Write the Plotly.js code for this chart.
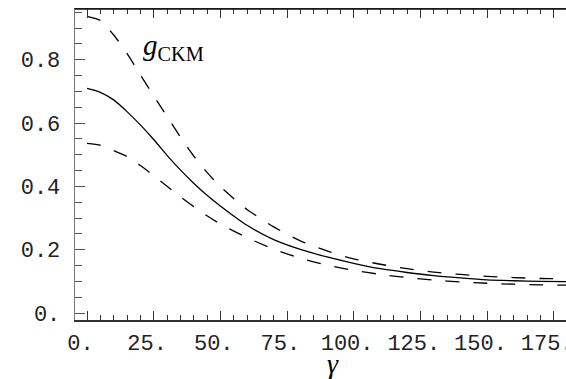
<!DOCTYPE html>
<html>
<head>
<meta charset="utf-8">
<script src="https://cdn.plot.ly/plotly-3.0.1.min.js"></script>
<style>html,body{margin:0;padding:0;overflow:hidden;background:#fff;}</style>
</head>
<body>
<div id="chart" style="width:566px;height:379px;"></div>
<script>
const gamma    = [0, 5, 10, 15, 20, 25, 30, 35, 40, 45, 50, 60, 70, 80, 90, 100, 110, 120, 130, 140, 150, 160, 170, 180];
const gCentral = [0.709, 0.697, 0.673, 0.636, 0.594, 0.548, 0.498, 0.452, 0.410, 0.372, 0.338, 0.277, 0.232, 0.201, 0.177, 0.157, 0.140, 0.128, 0.118, 0.111, 0.105, 0.102, 0.100, 0.099];
const gUpper   = [0.937, 0.924, 0.878, 0.820, 0.752, 0.686, 0.621, 0.556, 0.496, 0.444, 0.399, 0.327, 0.272, 0.228, 0.196, 0.171, 0.154, 0.140, 0.129, 0.122, 0.116, 0.112, 0.109, 0.108];
const gLower   = [0.536, 0.530, 0.513, 0.494, 0.466, 0.434, 0.400, 0.367, 0.336, 0.307, 0.281, 0.238, 0.202, 0.173, 0.151, 0.135, 0.122, 0.112, 0.104, 0.098, 0.094, 0.091, 0.089, 0.088];

const xTickVals = [0, 25, 50, 75, 100, 125, 150, 175];
const xTickText = ["0.", "25.", "50.", "75.", "100.", "125.", "150.", "175."];
const yTickVals = [0, 0.2, 0.4, 0.6, 0.8];
const yTickText = ["0.", "0.2", "0.4", "0.6", "0.8"];

const curveLabel = "<i>g</i><sub>CKM</sub>";
const xLabel = "<i>γ</i>";

const nb = "\u00a0";
const line = (dash) => ({color: "#000", width: 1.3, dash: dash, shape: "spline", smoothing: 0.6});

const traces = [
  {x: gamma, y: gUpper, mode: "lines", line: line("14px,14px"), hoverinfo: "skip"},
  {x: gamma, y: gCentral, mode: "lines", line: line("solid"), hoverinfo: "skip"},
  {x: gamma, y: gLower, mode: "lines", line: line("14px,14px"), hoverinfo: "skip"}
];

const monoFont = {family: "Liberation Mono, Courier New, monospace", size: 22, color: "#222"};
const serif = "Liberation Serif, Times New Roman, serif";

const layout = {
  width: 566, height: 379,
  margin: {l: 75, r: 0, t: 9, b: 59, pad: 0},
  paper_bgcolor: "#fff", plot_bgcolor: "#fff",
  showlegend: false,
  xaxis: {
    range: [-4.5, 179.6],
    showgrid: false, zeroline: false,
    showline: true, linecolor: "#333", linewidth: 1.5,
    mirror: "allticks",
    ticks: "inside", ticklen: 9, tickwidth: 1, tickcolor: "#333",
    tickmode: "array", tickvals: xTickVals,
    ticktext: xTickText.map(t => t + nb),
    tickangle: 0,
    ticklabeloverflow: "allow",
    tickfont: monoFont,
    ticklabelstandoff: 2,
    minor: {dtick: 5, ticks: "inside", ticklen: 5, tickwidth: 1, tickcolor: "#333", showgrid: false}
  },
  yaxis: {
    range: [-0.022, 0.96],
    showgrid: false, zeroline: false,
    showline: true, linecolor: "#777", linewidth: 1.3,
    mirror: false,
    ticks: "inside", ticklen: 10, tickwidth: 1, tickcolor: "#555",
    tickmode: "array", tickvals: yTickVals, ticktext: yTickText,
    tickfont: monoFont,
    ticklabelstandoff: 9,
    minor: {dtick: 0.05, ticks: "inside", ticklen: 7, tickwidth: 1, tickcolor: "#555", showgrid: false}
  },
  shapes: [
    {type: "line", xref: "paper", yref: "paper", x0: 0, x1: 1, y0: 1, y1: 1, layer: "above", line: {color: "#111", width: 1.5}}
  ],
  annotations: [
    {text: curveLabel, xref: "x", yref: "y", x: 20.2, y: 0.84, xanchor: "left", yanchor: "middle",
     showarrow: false, font: {family: serif, size: 29, color: "#000"}},
    {text: xLabel, xref: "paper", yref: "paper", x: 0.525, y: -0.14, xanchor: "center", yanchor: "middle",
     showarrow: false, font: {family: serif, size: 28, color: "#000"}}
  ]
};

Plotly.newPlot("chart", traces, layout, {displayModeBar: false, staticPlot: true});
</script>
</body>
</html>
